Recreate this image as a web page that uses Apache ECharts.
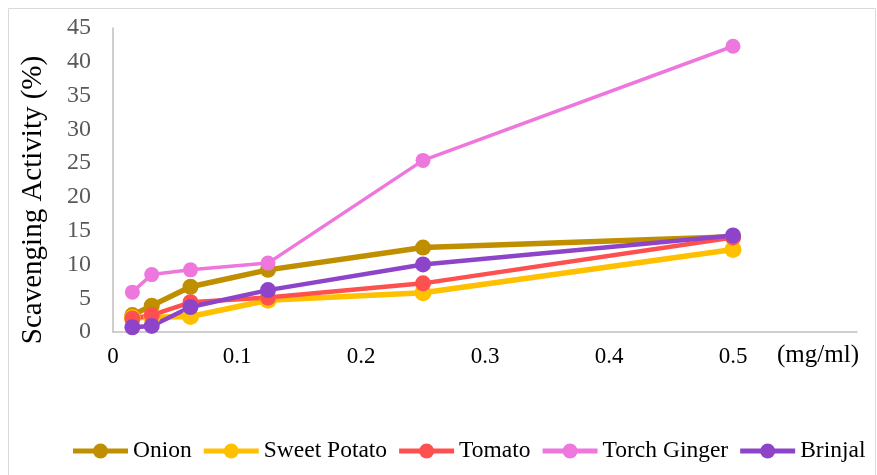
<!DOCTYPE html>
<html>
<head>
<meta charset="utf-8">
<script src="https://cdn.jsdelivr.net/npm/echarts@6/dist/echarts.min.js"></script>
<style>
html,body{margin:0;padding:0;background:#fff;}
#chart{width:877px;height:475px;}
</style>
</head>
<body>
<div id="chart"></div>
<script>
const concentrations = [0.015625, 0.03125, 0.0625, 0.125, 0.25, 0.5];
const onion = [2.5, 3.9, 6.7, 9.2, 12.5, 14.1];
const sweetPotato = [2.1, 2.2, 2.3, 4.7, 5.8, 12.2];
const tomato = [2.0, 2.5, 4.4, 5.1, 7.2, 14.0];
const torchGinger = [5.9, 8.5, 9.2, 10.2, 25.4, 42.3];
const brinjal = [0.7, 0.9, 3.7, 6.2, 10.0, 14.3];
const seriesNames = ['Onion', 'Sweet Potato', 'Tomato', 'Torch Ginger', 'Brinjal'];
const seriesColors = ['#BF8F00', '#FFC000', '#FF5050', '#EE77DD', '#8E44C8'];
const xTicks = [0, 0.1, 0.2, 0.3, 0.4, 0.5];
const yTicks = [0, 5, 10, 15, 20, 25, 30, 35, 40, 45];

const serif = 'Liberation Serif';
const chart = echarts.init(document.getElementById('chart'));

function mk(name, data, color, width, size) {
  return {
    name: name,
    type: 'line',
    data: concentrations.map((x, i) => [x, data[i]]),
    symbol: 'circle',
    symbolSize: size,
    itemStyle: { color: color },
    lineStyle: { color: color, width: width },
    emphasis: { disabled: true }
  };
}

// Legend drawn as graphic elements (serif text)
const legendFont = 23.5;
const ctx = document.createElement('canvas').getContext('2d');
ctx.font = legendFont + 'px "Liberation Serif"';
const legendEls = [];
let lx = 73;
const ly = 451;
seriesNames.forEach((n, i) => {
  const c = seriesColors[i];
  legendEls.push({ type: 'line', shape: { x1: lx, y1: ly, x2: lx + 55, y2: ly },
                   style: { stroke: c, lineWidth: 5 }, silent: true });
  legendEls.push({ type: 'circle', shape: { cx: lx + 27.5, cy: ly, r: 7.5 },
                   style: { fill: c }, silent: true });
  legendEls.push({ type: 'text', x: lx + 60, y: ly,
                   style: { text: n, fontSize: legendFont, fontFamily: serif, fill: '#000',
                            align: 'left', verticalAlign: 'middle' }, silent: true });
  lx += 60 + ctx.measureText(n).width + 12;
});

chart.setOption({
  animation: false,
  backgroundColor: '#fff',
  textStyle: { fontFamily: serif },
  graphic: [
    { type: 'rect', shape: { x: 8.5, y: 8.5, width: 867, height: 470 },
      style: { fill: 'none', stroke: '#D9D9D9', lineWidth: 1 }, silent: true },
    { type: 'text', x: 33, y: 200, rotation: Math.PI / 2,
      style: { text: 'Scavenging Activity (%)', fontSize: 29, fontFamily: serif, fill: '#000',
               align: 'center', verticalAlign: 'middle' } },
    { type: 'text', x: 818, y: 355,
      style: { text: '(mg/ml)', fontSize: 25, fontFamily: serif, fill: '#000',
               align: 'center', verticalAlign: 'middle' } }
  ].concat(legendEls),
  grid: { left: 113, right: 20, top: 28, bottom: 143, containLabel: false },
  xAxis: {
    type: 'value', min: 0, max: 0.6, interval: 0.1,
    axisLine: { show: true, lineStyle: { color: '#BFBFBF', width: 1.5 } },
    axisTick: { show: false },
    splitLine: { show: false },
    axisLabel: {
      color: '#000', fontSize: 23, fontFamily: serif, margin: 13,
      formatter: v => { const t = xTicks.find(x => Math.abs(x - v) < 1e-9); return t === undefined ? '' : String(t); }
    }
  },
  yAxis: {
    type: 'value', min: 0, max: 45, interval: 5,
    axisLine: { show: true, lineStyle: { color: '#BFBFBF', width: 1.5 } },
    axisTick: { show: false },
    splitLine: { show: false },
    axisLabel: {
      color: '#595959', fontSize: 24, fontFamily: serif, margin: 22,
      formatter: v => { const t = yTicks.find(y => Math.abs(y - v) < 1e-9); return t === undefined ? '' : String(t); }
    }
  },
  series: [
    mk(seriesNames[0], onion, seriesColors[0], 5.5, 16),
    mk(seriesNames[1], sweetPotato, seriesColors[1], 5.5, 17),
    mk(seriesNames[2], tomato, seriesColors[2], 4.5, 16),
    mk(seriesNames[3], torchGinger, seriesColors[3], 3.5, 15),
    mk(seriesNames[4], brinjal, seriesColors[4], 4.5, 16)
  ]
});
</script>
</body>
</html>
